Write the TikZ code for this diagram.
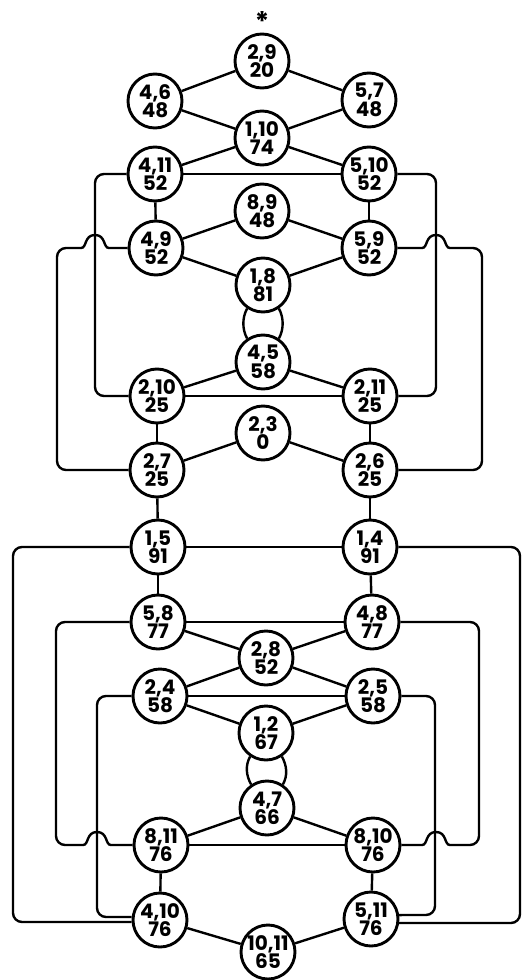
\documentclass[tikz,border=0pt]{standalone}
\usepackage{fontspec}
\setmainfont{Poppins}[Numbers=Proportional]
\begin{document}
\begin{tikzpicture}[x=1pt,y=-1pt,
  pairnode/.style={circle,draw=black,line width=2.9pt,fill=white,minimum size=54pt,inner sep=0pt,align=center,font=\fontsize{20}{16.5}\selectfont\bfseries},
  wire/.style={line width=2.4pt},
  route/.style={wire,rounded corners=9pt},
  twin/.style={line width=2.4pt}]
  \useasboundingbox (0,0) rectangle (523,980);

  \node[font=\fontsize{27}{27}\selectfont\bfseries,inner sep=0pt] (mark) at (262,22) {*};

  \node[pairnode] (n29) at (262,61) {2,9\\20};
  \node[pairnode] (n46) at (155,101) {4,6\\48};
  \node[pairnode] (n57) at (369,100) {5,7\\48};
  \node[pairnode] (n110) at (262,138) {1,10\\74};
  \node[pairnode] (n411) at (155,174) {4,11\\52};
  \node[pairnode] (n510) at (369,174) {5,10\\52};
  \node[pairnode] (n89) at (262,211) {8,9\\48};
  \node[pairnode] (n49) at (156,248) {4,9\\52};
  \node[pairnode] (n59) at (369,248) {5,9\\52};
  \node[pairnode] (n18) at (263,285) {1,8\\81};
  \node[pairnode] (n45) at (263,362) {4,5\\58};
  \node[pairnode] (n210) at (157,396) {2,10\\25};
  \node[pairnode] (n211) at (370,396) {2,11\\25};
  \node[pairnode] (n23) at (263,433) {2,3\\0};
  \node[pairnode] (n27) at (157,470) {2,7\\25};
  \node[pairnode] (n26) at (370,470) {2,6\\25};

  \node[pairnode] (n15) at (158,547) {1,5\\91};
  \node[pairnode] (n14) at (370,547) {1,4\\91};
  \node[pairnode] (n58) at (158,622) {5,8\\77};
  \node[pairnode] (n48) at (372,622) {4,8\\77};
  \node[pairnode] (n28) at (266,658) {2,8\\52};
  \node[pairnode] (n24) at (160,696) {2,4\\58};
  \node[pairnode] (n25) at (373,696) {2,5\\58};
  \node[pairnode] (n12) at (266,733) {1,2\\67};
  \node[pairnode] (n47) at (267,808) {4,7\\66};
  \node[pairnode] (n811) at (161,845) {8,11\\76};
  \node[pairnode] (n810) at (373,845) {8,10\\76};
  \node[pairnode] (n410) at (160,920) {4,10\\76};
  \node[pairnode] (n511) at (371,919) {5,11\\76};
  \node[pairnode] (n1011) at (268,952) {10,11\\65};

  % upper half
  \draw[wire] (n29) -- (n46);
  \draw[wire] (n29) -- (n57);
  \draw[wire] (n46) -- (n110);
  \draw[wire] (n57) -- (n110);
  \draw[wire] (n110) -- (n411);
  \draw[wire] (n110) -- (n510);
  \draw[wire] (n411) -- (n510);
  \draw[wire] (n411) -- (n49);
  \draw[wire] (n510) -- (n59);
  \draw[wire] (n49) -- (n89);
  \draw[wire] (n59) -- (n89);
  \draw[wire] (n49) -- (n18);
  \draw[wire] (n59) -- (n18);
  \draw[twin] (n18.-124) .. controls +(-5,9) and +(-5,-9) .. (n45.124);
  \draw[twin] (n18.-56) .. controls +(5,9) and +(5,-9) .. (n45.56);
  \draw[wire] (n45) -- (n210);
  \draw[wire] (n45) -- (n211);
  \draw[wire] (n210) -- (n211);
  \draw[wire] (n210) -- (n27);
  \draw[wire] (n211) -- (n26);
  \draw[wire] (n27) -- (n23);
  \draw[wire] (n26) -- (n23);
  \draw[route] (n411.west) -| (95,396) -- (n210.west);
  \draw[route] (n510.east) -| (436,396) -- (n211.east);
  \draw[wire] (n49.west) -- (109,248) .. controls (103,248) and (106,235) .. (95,235) .. controls (84,235) and (87,248) .. (81,248) [rounded corners=9pt] -| (57,470) -- (n27.west);
  \draw[wire] (n59.east) -- (422,248) .. controls (428,248) and (425,235) .. (436,235) .. controls (447,235) and (444,248) .. (450,248) [rounded corners=9pt] -| (482,470) -- (n26.east);

  % lower half
  \draw[wire] (n27) -- (n15);
  \draw[wire] (n26) -- (n14);
  \draw[wire] (n15) -- (n14);
  \draw[wire] (n15) -- (n58);
  \draw[wire] (n14) -- (n48);
  \draw[wire] (n58) -- (n48);
  \draw[wire] (n58) -- (n28);
  \draw[wire] (n48) -- (n28);
  \draw[wire] (n28) -- (n24);
  \draw[wire] (n28) -- (n25);
  \draw[wire] (n24) -- (n25);
  \draw[wire] (n24) -- (n12);
  \draw[wire] (n25) -- (n12);
  \draw[twin] (n12.-124) .. controls +(-5,9) and +(-5,-9) .. (n47.124);
  \draw[twin] (n12.-56) .. controls +(5,9) and +(5,-9) .. (n47.56);
  \draw[wire] (n47) -- (n811);
  \draw[wire] (n47) -- (n810);
  \draw[wire] (n811) -- (n810);
  \draw[wire] (n811) -- (n410);
  \draw[wire] (n810) -- (n511);
  \draw[wire] (n410) -- (n1011);
  \draw[wire] (n511) -- (n1011);
  \draw[route] (n15.west) -| (13,922) -- (n410.184);
  \draw[route] (n24.west) -| (97,917) -- (n410.174);
  \draw[wire] (n811.west) -- (111,845) .. controls (105,845) and (108,832) .. (97,832) .. controls (86,832) and (89,845) .. (83,845) [rounded corners=9pt] -| (56,622) -- (n58.west);
  \draw[route] (n14.east) -| (520,923) -- (n511.-8);
  \draw[route] (n25.east) -| (435,915) -- (n511.8);
  \draw[wire] (n810.east) -- (422,845) .. controls (428,845) and (425,832) .. (436,832) .. controls (447,832) and (444,845) .. (450,845) [rounded corners=9pt] -| (479,622) -- (n48.east);
\end{tikzpicture}
\end{document}
